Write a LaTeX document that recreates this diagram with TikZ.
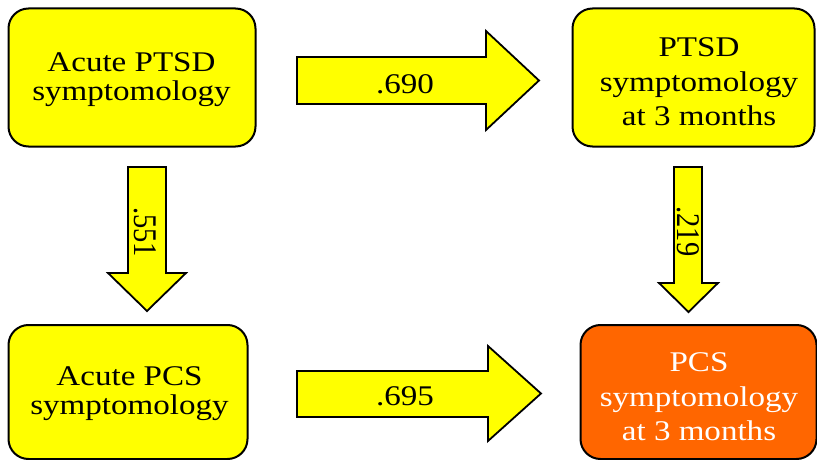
\documentclass[tikz,border=0pt]{standalone}
\usepackage{fontspec}
\usepackage{graphicx}
\setmainfont{Liberation Serif}[FakeStretch=1.16]
\newfontfamily\plainserif{Liberation Serif}
\definecolor{boxyellow}{HTML}{FFFF00}
\definecolor{boxorange}{HTML}{FF6600}
\begin{document}
\begin{tikzpicture}[x=1pt,y=-1pt,
  box/.style={draw=black, line width=2pt, rounded corners=20pt, fill=boxyellow, inner sep=0pt},
  twoline/.style={align=center, inner sep=0pt, font=\fontsize{28.5}{29}\selectfont},
  threeline/.style={align=center, inner sep=0pt, font=\fontsize{28.5}{34.5}\selectfont},
  blockarrow/.style={draw=black, line width=1.8pt, fill=boxyellow, line join=miter},
  coef/.style={inner sep=0pt, anchor=base, font=\fontsize{28.5}{30}\selectfont},
  vcoef/.style={inner sep=0pt, anchor=base, rotate=-90, font=\plainserif\fontsize{28.5}{30}\selectfont}]
\clip (0,0) rectangle (817,460);
% boxes
\node[box, minimum width=247pt, minimum height=138pt] (b1) at (132,77.5) {};
\node[twoline] (t1) at (131.5,80) {Acute PTSD\\symptomology};
\node[box, minimum width=242pt, minimum height=138pt] (b2) at (693.5,77.5) {};
\node[threeline] (t2) at (699,82) {PTSD\\symptomology\\at 3 months};
\node[box, minimum width=239pt, minimum height=134pt] (b3) at (128,392) {};
\node[twoline] (t3) at (129.5,394) {Acute PCS\\symptomology};
\node[box, fill=boxorange, minimum width=236pt, minimum height=134pt] (b4) at (698.5,392) {};
\node[threeline, text=white] (t4) at (699,397) {PCS\\symptomology\\at 3 months};
% block arrows
\draw[blockarrow] (297,57) -- (486,57) -- (486,31) -- (539,80.5) -- (486,130) -- (486,104) -- (297,104) -- cycle;
\node[coef] (c1) at (405,93) {.690};
\draw[blockarrow] (297,371) -- (488,371) -- (488,346) -- (541,393.5) -- (488,441) -- (488,417) -- (297,417) -- cycle;
\node[coef] (c2) at (405,405) {.695};
\draw[blockarrow] (128,167) -- (128,273) -- (108,273) -- (147,311) -- (186,273) -- (166,273) -- (166,167) -- cycle;
\node[vcoef] (c3) at (134,232) {\scalebox{1}[1.16]{.551}};
\draw[blockarrow] (674,167) -- (674,283) -- (659,283) -- (688.5,312) -- (718,283) -- (702,283) -- (702,167) -- cycle;
\node[vcoef] (c4) at (677.5,231.5) {\scalebox{1}[1.16]{.219}};
\end{tikzpicture}
\end{document}
